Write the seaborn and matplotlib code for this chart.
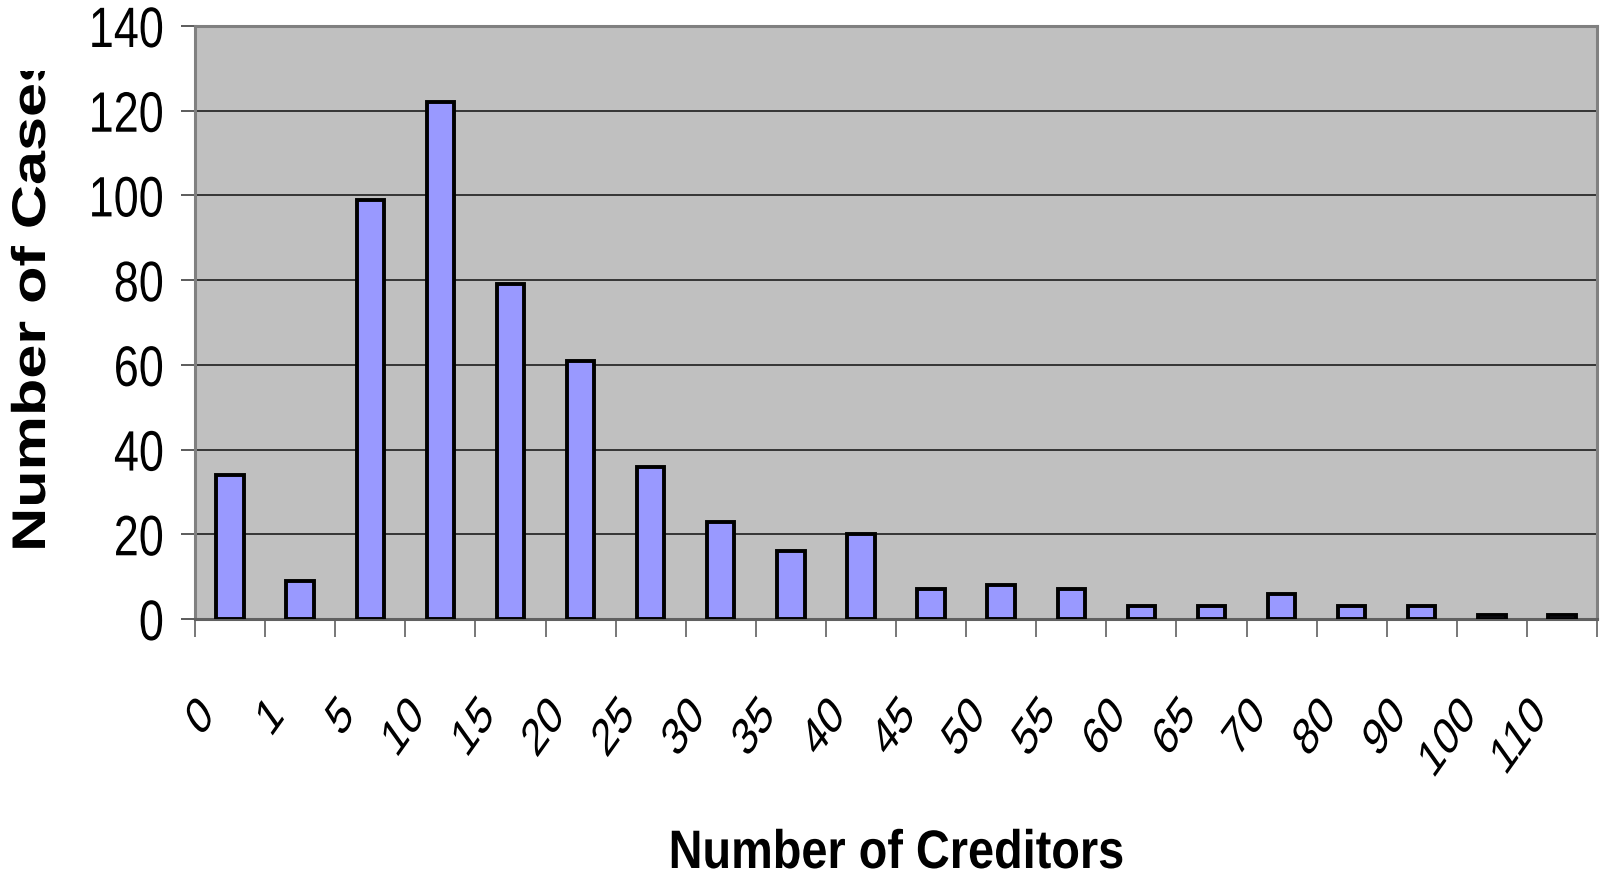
import numpy as np
import pandas as pd
import seaborn as sns
import matplotlib
matplotlib.use("Agg")
import matplotlib.pyplot as plt
from matplotlib import patheffects
from matplotlib.transforms import Affine2D, Bbox, TransformedBbox

# ---------------------------------------------------------------
# Datos
# ---------------------------------------------------------------
creditors = ['0', '1', '5', '10', '15', '20', '25', '30', '35', '40',
             '45', '50', '55', '60', '65', '70', '80', '90', '100', '110']
cases = [34, 9, 99, 122, 79, 61, 36, 23, 16, 20,
         7, 8, 7, 3, 3, 6, 3, 3, 1, 1]
y_ticks = [0, 20, 40, 60, 80, 100, 120, 140]

df = pd.DataFrame({'creditors': creditors, 'cases': cases})

FONT = ['Liberation Sans Narrow', 'Liberation Sans', 'DejaVu Sans']


class Squash(patheffects.AbstractPathEffect):
    """Escala el texto en pantalla alrededor de un punto de su línea
    (el original de Excel viene estirado/comprimido)."""
    def __init__(self, sx=1.0, sy=1.0, at=0.5):
        super().__init__()
        self.sx, self.sy, self.at = sx, sy, at

    def draw_path(self, renderer, gc, tpath, affine, rgbFace=None):
        ext = tpath.get_extents()
        px = ext.x0 + self.at * (ext.x1 - ext.x0)
        py = 0.5 * (ext.y0 + ext.y1)
        cx, cy = affine.transform((px, py))
        extra = Affine2D().translate(-cx, -cy).scale(self.sx, self.sy).translate(cx, cy)
        renderer.draw_path(gc, tpath, affine + extra, rgbFace)


sns.set_style('white')
plt.rcParams['font.family'] = FONT
plt.rcParams['text.color'] = 'black'
plt.rcParams['axes.labelcolor'] = 'black'
plt.rcParams['xtick.color'] = 'black'
plt.rcParams['ytick.color'] = 'black'

W, H = 1605, 878
fig = plt.figure(figsize=(W / 100, H / 100), dpi=100)
left, right, top, bottom = 195, 1597, 27, 620
ax = fig.add_axes([left / W, 1 - bottom / H, (right - left) / W, (bottom - top) / H])
ax.set_facecolor('#C0C0C0')

sns.barplot(data=df, x='creditors', y='cases', ax=ax, color='#9999FF',
            saturation=1, width=0.39, edgecolor='black', linewidth=2.8, zorder=3)

# eje Y
ax.set_ylim(0, 140)
ax.set_yticks(y_ticks)
ax.set_yticklabels([str(v) for v in y_ticks], fontsize=41)
ax.yaxis.grid(True, color='#2a2a2a', linewidth=1.3, zorder=0)
ax.set_axisbelow(True)
ax.tick_params(axis='y', which='major', direction='out', length=10, width=1.2,
               color='#404040', pad=12, left=True)
for lbl in ax.get_yticklabels():
    lbl.set_path_effects([Squash(0.79, 1.0, at=1.0)])

# eje X: marcas en los límites de categoría, etiquetas giradas
n = len(creditors)
ax.set_xlim(-0.5, n - 0.5)
ax.set_xticks(np.arange(n + 1) - 0.5, minor=True)
ax.set_xticks(np.arange(n) - 0.30)
ax.set_xticklabels(creditors, fontsize=32, rotation=45, ha='right', va='center',
                   rotation_mode='anchor')
ax.tick_params(axis='x', which='major', length=0, pad=64)
ax.tick_params(axis='x', which='minor', direction='out', length=13, width=1.2,
               color='#606060', bottom=True)
for lbl in ax.get_xticklabels():
    lbl.set_path_effects([Squash(0.84, 1.18, at=1.0)])

for side in ['left', 'right', 'top', 'bottom']:
    ax.spines[side].set_visible(True)
    ax.spines[side].set_color('#808080')
    ax.spines[side].set_linewidth(2.2)
ax.spines['bottom'].set_color('#606060')

ax.set_ylabel('')
xlab = ax.set_xlabel('Number of Creditors', fontsize=39, fontweight='bold', va='baseline')
ax.xaxis.set_label_coords(0.5, (bottom - 869) / (bottom - top))
xlab.set_path_effects([Squash(0.865, 1.0, at=0.5)])

# título del eje Y, recortado arriba como en el original
ylab = fig.text(33 / W, 1 - 552 / H, 'Number of Cases', rotation=90,
                ha='center', va='bottom', fontsize=34, fontweight='bold',
                family=['Liberation Sans', 'DejaVu Sans'])
ylab.set_path_effects([Squash(1.0, 1.295, at=0.0)])
ylab.set_clip_box(TransformedBbox(Bbox.from_extents(0, 0, 1, 1 - 72 / H), fig.transFigure))
ylab.set_clip_on(True)

fig.savefig('out.png', dpi=100, facecolor='white')
